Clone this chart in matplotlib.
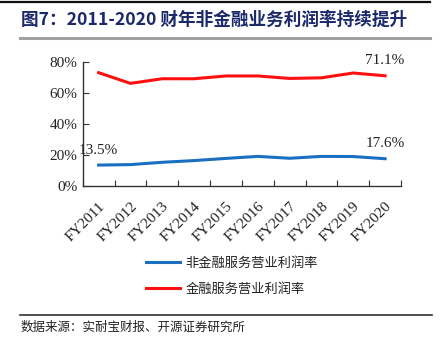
import matplotlib
matplotlib.use("Agg")
import matplotlib.pyplot as plt
from matplotlib.lines import Line2D
from matplotlib.ticker import FuncFormatter

years = ["FY2011", "FY2012", "FY2013", "FY2014", "FY2015",
         "FY2016", "FY2017", "FY2018", "FY2019", "FY2020"]
non_financial = [13.5, 13.8, 15.3, 16.4, 17.8, 19.1, 17.9, 19.1, 19.0, 17.6]
financial = [73.1, 66.2, 69.2, 69.2, 71.0, 71.0, 69.4, 69.8, 72.9, 71.1]
y_ticks = [0, 20, 40, 60, 80]

title = "图7：2011-2020 财年非金融业务利润率持续提升"
source = "数据来源：实耐宝财报、开源证券研究所"
label_non_fin = "非金融服务营业利润率"
label_fin = "金融服务营业利润率"

W, H = 443, 339
fig = plt.figure(figsize=(W / 100, H / 100), dpi=100)

serif = ["Liberation Serif", "DejaVu Serif"]
cjk = ["Noto Sans CJK SC", "DejaVu Sans"]

def fx(px):
    return px / W

def fy(py):
    return 1 - py / H

# decorative rules
fig.add_artist(Line2D([fx(0), fx(430)], [fy(1.5), fy(1.5)], color="#111111", lw=1.6))
fig.add_artist(Line2D([fx(20), fx(430)], [fy(38), fy(38)], color="#a0a0a0", lw=2.2))
fig.add_artist(Line2D([fx(20), fx(432)], [fy(315), fy(315)], color="#333333", lw=1.2))

fig.text(fx(21), fy(20), title, family=cjk, fontsize=12.7, fontweight="bold",
         color="#1c2a6b", va="center", ha="left")
fig.text(fx(21), fy(327), source, family=cjk, fontsize=9, color="#222222",
         va="center", ha="left")

ax = fig.add_axes([fx(82.7), fy(186), fx(401 - 82.7), (186 - 62) / H])
x = list(range(len(years)))
ax.plot(x, non_financial, color="#1a6fc0", lw=2.2, label=label_non_fin)
ax.plot(x, financial, color="#ff1010", lw=2.2, label=label_fin)

ax.set_xlim(-0.5, len(years) - 0.5)
ax.set_ylim(0, 80)
ax.set_yticks(y_ticks)
ax.yaxis.set_major_formatter(FuncFormatter(lambda v, p: f"{v:.0f}%"))
ax.set_xticks([i - 0.5 for i in range(len(years) + 1)], minor=False)
ax.set_xticklabels([])
ax.set_xticks(x, minor=True)
ax.set_xticklabels(years, minor=True, rotation=45, ha="right",
                   rotation_mode="anchor", family=serif, fontsize=11)
ax.tick_params(axis="x", which="minor", length=0, pad=10)
ax.tick_params(axis="x", which="major", length=4, direction="in", color="#333333")
ax.tick_params(axis="y", length=4, direction="in", color="#333333", pad=4)
for lab in ax.get_yticklabels():
    lab.set_family(serif)
    lab.set_fontsize(11)
    lab.set_color("#222222")
for lab in ax.get_xticklabels(minor=True):
    lab.set_color("#222222")

for s in ["top", "right"]:
    ax.spines[s].set_visible(False)
for s in ["left", "bottom"]:
    ax.spines[s].set_color("#333333")
    ax.spines[s].set_linewidth(1.0)

# value annotations
ann = dict(family=serif, fontsize=11, color="#222222", ha="center", va="bottom",
           textcoords="offset points", annotation_clip=False)
ax.annotate(f"{non_financial[0]}%", (x[0], non_financial[0]), xytext=(0, 6), **ann)
ax.annotate(f"{non_financial[-1]}%", (x[-1], non_financial[-1]), xytext=(0, 6), **ann)
ax.annotate(f"{financial[-1]}%", (x[-1], financial[-1]), xytext=(0, 6), **ann)

leg = fig.legend(loc="upper left", bbox_to_anchor=(fx(134), fy(245)),
                 frameon=False, prop={"family": cjk, "size": 9.5},
                 handlelength=2.6, labelspacing=0.95, handletextpad=0.4)
for t in leg.get_texts():
    t.set_color("#222222")

fig.savefig("out.png", dpi=100)
